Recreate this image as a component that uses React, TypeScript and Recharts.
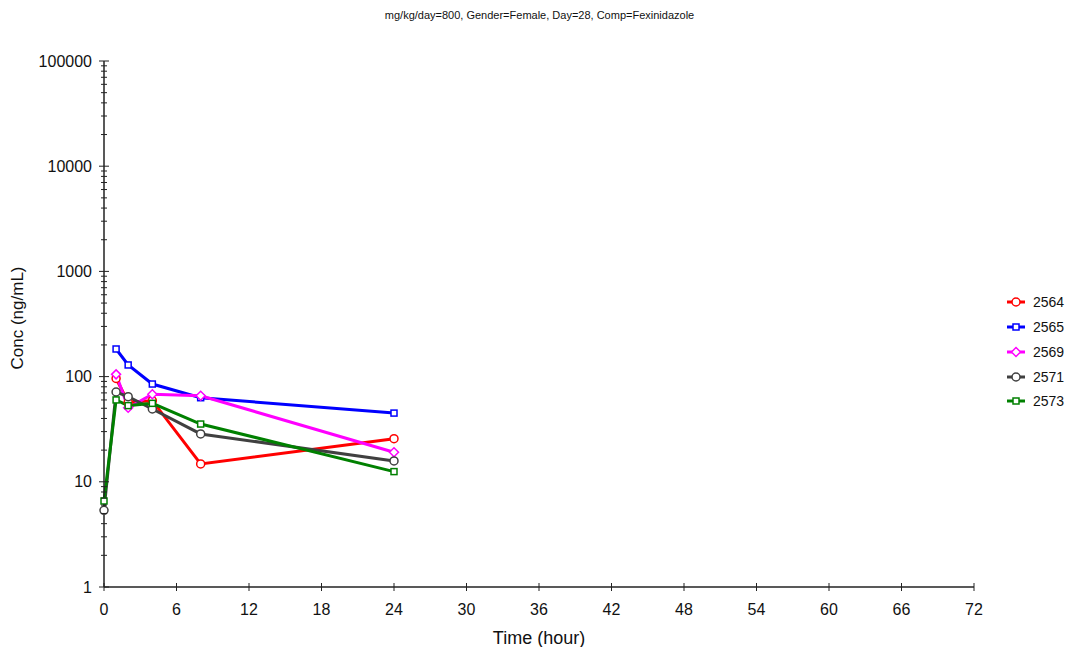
import { LineChart, Line, XAxis, YAxis, Legend } from "recharts";

const times = [0, 1, 2, 4, 8, 24];
const s2564 = [null, 96, 57, 59, 14.8, 25.7];
const s2565 = [null, 183, 129, 85, 63, 45];
const s2569 = [null, 105, 50.6, 68, 65.8, 19.1];
const s2571 = [5.36, 71.4, 64.4, 49.2, 28.5, 15.8];
const s2573 = [6.57, 60, 53, 55.7, 35.4, 12.5];

const xTicks = [0, 6, 12, 18, 24, 30, 36, 42, 48, 54, 60, 66, 72];
const yDecades = [1, 10, 100, 1000, 10000, 100000];

const series = [
  { key: "2564", values: s2564, color: "#ff0000", shape: "circle" },
  { key: "2565", values: s2565, color: "#0000ff", shape: "square" },
  { key: "2569", values: s2569, color: "#ff00ff", shape: "diamond" },
  { key: "2571", values: s2571, color: "#404040", shape: "circle" },
  { key: "2573", values: s2573, color: "#008000", shape: "square" },
];

const data = times.map((t, i) => {
  const row: any = { t };
  series.forEach((s) => {
    row[s.key] = s.values[i];
  });
  return row;
});

// minor ticks 1..9 inside every decade
const yTicks: number[] = [];
yDecades.forEach((d, i) => {
  if (i === yDecades.length - 1) {
    yTicks.push(d);
    return;
  }
  for (let m = 1; m <= 9; m++) yTicks.push(m * d);
});

const FONT = "'Liberation Sans', Arial, sans-serif";
const AXIS = "#222";

function Marker({ cx, cy, color, shape }: any) {
  if (cx == null || cy == null) return null;
  if (shape === "circle") {
    return <circle cx={cx} cy={cy} r={4} fill="#fff" stroke={color} strokeWidth={1.5} />;
  }
  if (shape === "square") {
    return <rect x={cx - 3} y={cy - 3} width={6} height={6} fill="#fff" stroke={color} strokeWidth={1.5} />;
  }
  return (
    <path
      d={`M${cx},${cy - 4.5}L${cx + 4.5},${cy}L${cx},${cy + 4.5}L${cx - 4.5},${cy}Z`}
      fill="#fff"
      stroke={color}
      strokeWidth={1.5}
    />
  );
}

function YTick({ x, y, payload }: any) {
  const v = payload.value;
  const major = yDecades.includes(v);
  return (
    <g>
      <line x1={x - (major ? 5 : 3)} x2={x + (major ? 5 : 3)} y1={y} y2={y} stroke={AXIS} strokeWidth={1} />
      {major && (
        <text x={x - 12} y={y + 5.5} textAnchor="end" fontSize={16} fontFamily={FONT} fill="#111">
          {v}
        </text>
      )}
    </g>
  );
}

function XTick({ x, y, payload }: any) {
  return (
    <g>
      <line x1={x} x2={x} y1={y - 4} y2={y + 4} stroke={AXIS} strokeWidth={1} />
      <text x={x} y={y + 28} textAnchor="middle" fontSize={16} fontFamily={FONT} fill="#111">
        {payload.value}
      </text>
    </g>
  );
}

function LegendBox() {
  return (
    <div style={{ fontFamily: FONT, fontSize: 14, color: "#111" }}>
      {series.map((s) => (
        <div key={s.key} style={{ display: "flex", alignItems: "center", height: 24.75 }}>
          <svg width={22} height={12} style={{ marginRight: 6 }}>
            <line x1={2} x2={20} y1={6} y2={6} stroke={s.color} strokeWidth={3} />
            <Marker cx={11} cy={6} color={s.color} shape={s.shape} />
          </svg>
          <span>{s.key}</span>
        </div>
      ))}
    </div>
  );
}

export default function App() {
  return (
    <div style={{ position: "absolute", left: 0, top: 0, width: 1071, height: 647, background: "#fff" }}>
      <div
        style={{
          position: "absolute",
          left: 0,
          top: 9,
          width: 1079,
          textAlign: "center",
          fontFamily: FONT,
          fontSize: 11,
          lineHeight: "12px",
          color: "#111",
        }}
      >
        mg/kg/day=800, Gender=Female, Day=28, Comp=Fexinidazole
      </div>
      <LineChart width={1071} height={647} data={data} margin={{ top: 61, right: 97, left: 0, bottom: 0 }}>
        <XAxis
          dataKey="t"
          type="number"
          domain={[0, 72]}
          ticks={xTicks}
          interval={0}
          height={60}
          tickSize={0}
          tickMargin={0}
          tickLine={false}
          tick={<XTick />}
          axisLine={{ stroke: AXIS, strokeWidth: 1.5 }}
          label={{
            content: ({ viewBox }: any) => (
              <text
                x={viewBox.x + viewBox.width / 2}
                y={viewBox.y + 57}
                textAnchor="middle"
                fontSize={18}
                fontFamily={FONT}
                fill="#111"
              >
                Time (hour)
              </text>
            ),
          }}
        />
        <YAxis
          type="number"
          scale="log"
          domain={[1, 100000]}
          allowDataOverflow
          ticks={yTicks}
          interval={0}
          width={104}
          tickSize={0}
          tickMargin={0}
          tickLine={false}
          tick={<YTick />}
          axisLine={{ stroke: AXIS, strokeWidth: 1.5 }}
          label={{
            content: ({ viewBox }: any) => (
              <text
                x={23}
                y={viewBox.y + viewBox.height / 2 - 6}
                textAnchor="middle"
                fontSize={17}
                fontFamily={FONT}
                fill="#111"
                transform={`rotate(-90, 23, ${viewBox.y + viewBox.height / 2 - 6})`}
              >
                Conc (ng/mL)
              </text>
            ),
          }}
        />
        <Legend
          layout="vertical"
          align="center"
          verticalAlign="middle"
          content={<LegendBox />}
          wrapperStyle={{ left: 1005, top: 290, width: 66, height: 125 }}
        />
        {series.map((s) => (
          <Line
            key={s.key}
            dataKey={s.key}
            name={s.key}
            type="linear"
            stroke={s.color}
            strokeWidth={3}
            isAnimationActive={false}
            dot={(p: any) => <Marker key={`${s.key}-${p.index}`} cx={p.cx} cy={p.cy} color={s.color} shape={s.shape} />}
            activeDot={false}
          />
        ))}
      </LineChart>
    </div>
  );
}
